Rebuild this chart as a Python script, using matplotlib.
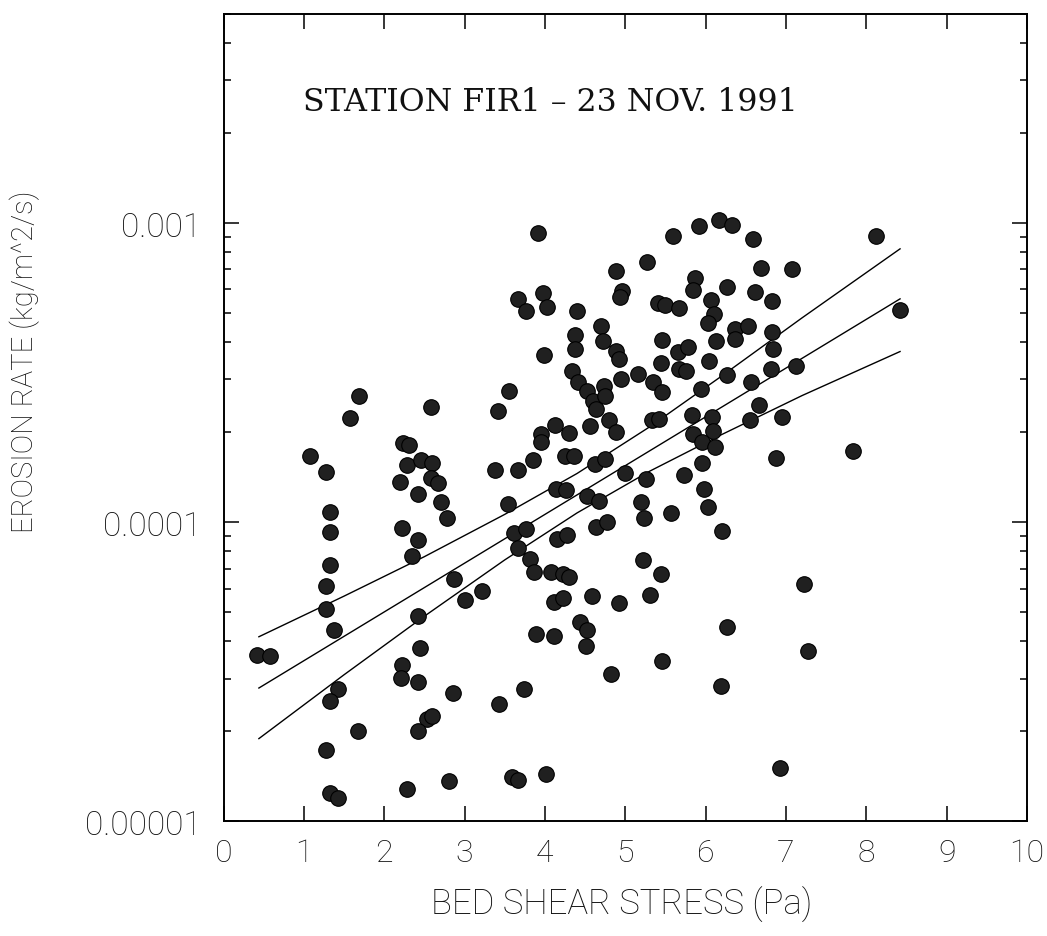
import matplotlib
matplotlib.use("Agg")
import matplotlib.pyplot as plt
from matplotlib.ticker import FixedLocator, FixedFormatter, LogLocator, NullFormatter, NullLocator

# Bed shear stress (Pa) and erosion rate (kg/m^2/s) measured at station FIR1
shear_stress = [
    3.91, 3.67, 3.77, 3.98, 4.03, 4.40, 4.38, 4.38, 3.99, 4.34,
    4.41, 3.55, 3.41, 1.69, 1.57, 2.58, 1.08, 1.27, 1.33, 2.23,
    2.31, 2.28, 2.46, 2.60, 2.58, 2.67, 2.20, 2.42, 2.71, 2.78,
    3.38, 3.54, 3.67, 3.85, 3.95, 3.95, 4.13, 4.30, 4.25, 4.36,
    4.14, 4.26,
    5.60, 5.92, 6.17, 6.33, 6.59, 8.12, 4.89, 5.27, 4.96, 4.93,
    5.87, 5.84, 6.69, 7.07, 6.26, 6.61, 6.83, 5.41, 5.50, 5.67,
    6.07, 6.10, 6.03, 4.70, 4.72, 5.46, 6.13, 6.37, 6.37, 6.53,
    6.83, 6.84, 4.89, 4.92, 4.95, 5.66, 5.78, 6.04, 5.44, 5.67,
    5.75, 5.16, 5.35, 5.46, 6.82, 7.12, 4.52, 4.60, 4.64, 4.74,
    4.75, 4.56, 4.80, 4.89, 4.62, 4.75, 5.00, 5.26, 4.52, 4.67,
    5.20, 5.23, 5.57, 5.73, 5.96, 5.98, 6.03, 5.83, 6.08, 6.09,
    5.84, 5.96, 6.12, 6.55, 6.66, 6.95, 5.33, 5.42, 5.94, 6.26,
    6.57, 6.87, 7.83, 8.42,
    1.33, 1.32, 1.27, 1.27, 1.38, 0.42, 0.58, 2.22, 2.42, 2.35,
    2.87, 3.01, 3.22, 2.42, 2.44, 2.22, 2.21, 2.42, 1.42, 1.33,
    1.67, 1.28, 1.33, 1.42, 2.28, 2.53, 2.59, 2.42, 2.85, 2.80,
    3.43, 3.74, 3.89, 4.11, 3.59, 3.67, 4.01, 3.61, 3.76, 3.67,
    3.81, 3.87, 4.07, 4.22, 4.30, 4.15, 4.28, 4.11, 4.22,
    4.64, 4.77, 6.21, 5.22, 5.44, 4.59, 4.92, 5.31, 4.44, 4.52,
    4.51, 4.82, 5.46, 6.19, 6.26, 7.23, 7.28, 6.92,
]
erosion_rate = [
    9.27e-4, 5.57e-4, 5.07e-4, 5.85e-4, 5.25e-4, 5.09e-4, 4.21e-4, 3.79e-4, 3.62e-4, 3.21e-4,
    2.94e-4, 2.75e-4, 2.36e-4, 2.65e-4, 2.23e-4, 2.43e-4, 1.66e-4, 1.47e-4, 1.08e-4, 1.84e-4,
    1.81e-4, 1.55e-4, 1.61e-4, 1.58e-4, 1.40e-4, 1.35e-4, 1.36e-4, 1.24e-4, 1.17e-4, 1.03e-4,
    1.50e-4, 1.15e-4, 1.49e-4, 1.61e-4, 1.97e-4, 1.85e-4, 2.11e-4, 1.98e-4, 1.66e-4, 1.67e-4,
    1.29e-4, 1.28e-4,
    9.08e-4, 9.79e-4, 1.026e-3, 9.84e-4, 8.85e-4, 9.08e-4, 6.93e-4, 7.43e-4, 5.94e-4, 5.65e-4,
    6.53e-4, 5.98e-4, 7.06e-4, 7.01e-4, 6.12e-4, 5.86e-4, 5.50e-4, 5.40e-4, 5.32e-4, 5.22e-4,
    5.53e-4, 4.97e-4, 4.62e-4, 4.54e-4, 4.02e-4, 4.05e-4, 4.03e-4, 4.43e-4, 4.09e-4, 4.54e-4,
    4.32e-4, 3.79e-4, 3.74e-4, 3.52e-4, 3.01e-4, 3.70e-4, 3.85e-4, 3.45e-4, 3.40e-4, 3.24e-4,
    3.21e-4, 3.13e-4, 2.94e-4, 2.72e-4, 3.24e-4, 3.33e-4, 2.75e-4, 2.55e-4, 2.39e-4, 2.86e-4,
    2.65e-4, 2.10e-4, 2.19e-4, 2.00e-4, 1.57e-4, 1.63e-4, 1.46e-4, 1.39e-4, 1.22e-4, 1.18e-4,
    1.17e-4, 1.03e-4, 1.07e-4, 1.44e-4, 1.58e-4, 1.29e-4, 1.12e-4, 2.29e-4, 2.24e-4, 2.02e-4,
    1.97e-4, 1.85e-4, 1.79e-4, 2.19e-4, 2.47e-4, 2.25e-4, 2.19e-4, 2.21e-4, 2.79e-4, 3.11e-4,
    2.95e-4, 1.64e-4, 1.73e-4, 5.13e-4,
    9.27e-5, 7.19e-5, 6.11e-5, 5.13e-5, 4.35e-5, 3.61e-5, 3.56e-5, 9.55e-5, 8.73e-5, 7.69e-5,
    6.44e-5, 5.51e-5, 5.89e-5, 4.84e-5, 3.80e-5, 3.32e-5, 3.01e-5, 2.92e-5, 2.77e-5, 2.52e-5,
    2.00e-5, 1.73e-5, 1.24e-5, 1.20e-5, 1.28e-5, 2.20e-5, 2.25e-5, 2.00e-5, 2.69e-5, 1.36e-5,
    2.47e-5, 2.76e-5, 4.24e-5, 4.15e-5, 1.41e-5, 1.37e-5, 1.44e-5, 9.20e-5, 9.51e-5, 8.18e-5,
    7.53e-5, 6.84e-5, 6.84e-5, 6.71e-5, 6.55e-5, 8.79e-5, 9.08e-5, 5.41e-5, 5.57e-5,
    9.62e-5, 1.005e-4, 9.38e-5, 7.45e-5, 6.71e-5, 5.66e-5, 5.37e-5, 5.69e-5, 4.63e-5, 4.35e-5,
    3.85e-5, 3.10e-5, 3.44e-5, 2.84e-5, 4.46e-5, 6.22e-5, 3.72e-5, 1.51e-5,
]

# Regression line and its confidence band
fit_x = [0.44, 8.42]
fit_y = [2.79e-5, 5.58e-4]
band_x = [0.44, 1.5, 2.5, 3.5, 4.4, 5.3, 6.2, 7.2, 8.42]
band_upper = [4.14e-5, 5.66e-5, 7.67e-5, 1.062e-4, 1.455e-4, 2.08e-4, 3.08e-4, 4.82e-4, 8.20e-4]
band_lower = [1.89e-5, 3.09e-5, 4.85e-5, 7.48e-5, 1.074e-4, 1.479e-4, 1.963e-4, 2.65e-4, 3.72e-4]

x_ticks = list(range(0, 11))
y_ticks = [1e-5, 1e-4, 1e-3]
y_tick_labels = ["0.00001", "0.0001", "0.001"]

title_text = "STATION FIR1 \u2013 23 NOV. 1991"
x_label = "BED SHEAR STRESS (Pa)"
y_label = "EROSION RATE (kg/m^2/s)"

sans = ["Roboto", "DejaVu Sans"]

fig = plt.figure(figsize=(10.47, 9.37), dpi=100)
ax = fig.add_axes([0.2135, 0.1224, 0.9809 - 0.2135, 0.984 - 0.1224])

ax.plot(shear_stress, erosion_rate, linestyle="none", marker="o",
        markersize=11.2, markerfacecolor="#202020", markeredgecolor="#000000",
        markeredgewidth=0.8, zorder=3)

for ys in (band_upper, band_lower):
    ax.plot(band_x, ys, color="black", linewidth=1.0, zorder=2)
ax.plot(fit_x, fit_y, color="black", linewidth=1.0, zorder=2)

ax.set_yscale("log")
ax.set_xlim(0, 10)
ax.set_ylim(1e-5, 5e-3)

ax.xaxis.set_major_locator(FixedLocator(x_ticks))
ax.xaxis.set_minor_locator(NullLocator())
ax.yaxis.set_major_locator(FixedLocator(y_ticks))
ax.yaxis.set_major_formatter(FixedFormatter(y_tick_labels))
ax.yaxis.set_minor_locator(LogLocator(base=10, subs=range(2, 10)))
ax.yaxis.set_minor_formatter(NullFormatter())

ax.tick_params(axis="x", which="major", direction="in", length=11, width=1.1,
               top=True, bottom=True, pad=12, labelsize=23, labelcolor="#111111")
ax.tick_params(axis="y", which="major", direction="in", length=11, width=1.1,
               left=True, right=True, pad=16, labelsize=24, labelcolor="#111111")
ax.tick_params(axis="y", which="minor", direction="in", length=5, width=1.1,
               left=True, right=True)
for lab in ax.get_xticklabels() + ax.get_yticklabels():
    lab.set_fontfamily(sans)
    lab.set_fontweight("light")

for sp in ax.spines.values():
    sp.set_linewidth(1.4)
    sp.set_color("black")

ax.text(0.99, 2.55e-3, title_text, family=["DejaVu Serif"],
        fontsize=22.8, ha="left", va="center", color="#111111")

fig.text(0.594, 0.034, x_label, ha="center", va="center", fontsize=25,
         family=sans, weight="light", color="#111111")
fig.text(0.024, 0.6137, y_label, ha="center", va="center", rotation=90,
         fontsize=21, family=sans, weight="light", color="#111111")

fig.savefig("out.png", dpi=100, facecolor="white")
